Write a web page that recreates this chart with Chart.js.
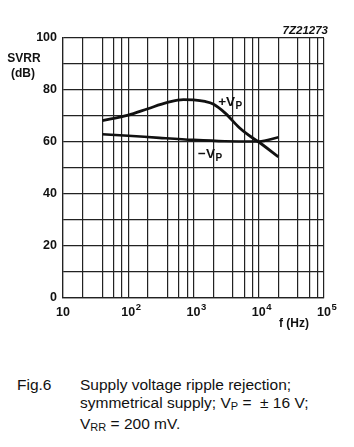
<!DOCTYPE html>
<html>
<head>
<meta charset="utf-8">
<script src="https://cdn.jsdelivr.net/npm/chart.js@4/dist/chart.umd.min.js"></script>
<style>
  body { margin: 0; background: #fff; width: 354px; height: 447px; position: relative; overflow: hidden; }
  #wrap { position: absolute; left: 0; top: 0; width: 354px; height: 345px; }
  .cap { position: absolute; font-family: "Liberation Sans", Arial, sans-serif; font-size: 15.5px; line-height: 18px; color: #111; }
  .cap sub { font-size: 11px; vertical-align: -2px; }
</style>
</head>
<body>
<div id="wrap"><canvas id="result-chart"></canvas></div>
<div class="cap" style="left:17px; top:376px;">Fig.6</div>
<div class="cap" style="left:80px; top:376px;">Supply voltage ripple rejection;<br>symmetrical supply; V<sub>P</sub> = &nbsp;± 16 V;<br>V<sub>RR</sub> = 200 mV.</div>
<script>
const pos_freq = [40, 100, 200, 400, 700, 1000, 1500, 2000, 3000, 5000, 7000, 10000, 20000];
const pos_svrr = [68.2, 70.3, 72.8, 75.2, 76.3, 76.2, 75.6, 74.6, 71.3, 65.6, 62.6, 60.0, 54.3];
const neg_freq = [40, 100, 300, 1000, 3000, 10000, 20000];
const neg_svrr = [63.0, 62.4, 61.6, 60.8, 60.3, 60.2, 61.8];
const x_grid = [10, 20, 40, 60, 80, 100, 200, 400, 600, 800, 1000, 2000, 4000, 6000, 8000,
  10000, 20000, 40000, 60000, 80000, 100000];
const x_decades = [10, 100, 1000, 10000, 100000];
const x_exponents = ["", "2", "3", "4", "5"];
const y_labels = [0, 20, 40, 60, 80, 100];

const FONT = '"Liberation Sans", Arial, sans-serif';
const INK = "#111";

const to_points = (xs, ys) => xs.map((x, i) => ({ x: x, y: ys[i] }));

const text_plugin = {
  id: "texts",
  afterDraw(chart) {
    const ctx = chart.ctx;
    const xs = chart.scales.x;
    const ys = chart.scales.y;
    ctx.save();
    ctx.fillStyle = INK;
    ctx.textBaseline = "alphabetic";

    // decade labels with superscript exponents
    x_decades.forEach((v, i) => {
      const x = xs.getPixelForValue(v);
      const base_y = chart.chartArea.bottom + 18;
      ctx.font = "bold 12.5px " + FONT;
      ctx.textAlign = "center";
      ctx.fillText("10", x, base_y);
      const w = ctx.measureText("10").width;
      if (x_exponents[i]) {
        ctx.font = "bold 9.5px " + FONT;
        ctx.textAlign = "left";
        ctx.fillText(x_exponents[i], x + w / 2 + 0.5, base_y - 6);
      }
    });

    ctx.font = "bold 12px " + FONT;
    ctx.textAlign = "center";
    ctx.fillText("SVRR", 24, 62);
    ctx.fillText("(dB)", 23, 77);
    ctx.textAlign = "left";
    ctx.fillText("f (Hz)", 279, 327);
    ctx.font = "italic bold 11.5px " + FONT;
    ctx.textAlign = "right";
    ctx.fillText("7Z21273", 328, 34);

    const sub_label = (sign, f, db) => {
      const x = xs.getPixelForValue(f);
      const y = ys.getPixelForValue(db);
      ctx.textAlign = "left";
      ctx.font = "bold 13.5px " + FONT;
      const head = sign + "V";
      ctx.fillText(head, x, y);
      const w = ctx.measureText(head).width;
      ctx.font = "bold 10px " + FONT;
      ctx.fillText("P", x + w + 0.5, y + 3);
    };
    sub_label("+", 2390, 73.8);
    sub_label("\u2212", 1175, 54.0);
    ctx.restore();
  },
};

const get_chart_config = () => {
  return {
    type: "line",
    data: {
      datasets: [
        {
          label: "+VP",
          data: to_points(pos_freq, pos_svrr),
          borderColor: INK,
          borderWidth: 2.8,
          pointRadius: 0,
          cubicInterpolationMode: "monotone",
          fill: false,
        },
        {
          label: "-VP",
          data: to_points(neg_freq, neg_svrr),
          borderColor: INK,
          borderWidth: 2.6,
          pointRadius: 0,
          cubicInterpolationMode: "monotone",
          fill: false,
        },
      ],
    },
    options: {
      responsive: true,
      maintainAspectRatio: false,
      animation: false,
      layout: { padding: { left: 0, top: 38, right: 30, bottom: 0 } },
      plugins: { legend: { display: false }, tooltip: { enabled: false } },
      scales: {
        x: {
          type: "logarithmic",
          min: 10,
          max: 100000,
          afterBuildTicks: (scale) => {
            scale.ticks = x_grid.map((v) => ({ value: v }));
          },
          afterFit: (scale) => {
            scale.height = 47;
          },
          grid: { color: "#222", lineWidth: 1.2, drawTicks: false },
          border: { color: "#222", width: 1.2 },
          ticks: {
            autoSkip: false,
            maxRotation: 0,
            callback: () => "",
          },
        },
        y: {
          min: 0,
          max: 100,
          afterFit: (scale) => {
            scale.width = 63;
          },
          grid: { color: "#222", lineWidth: 1.2, drawTicks: false },
          border: { color: "#222", width: 1.2 },
          ticks: {
            stepSize: 10,
            padding: 6,
            color: INK,
            font: { family: FONT, size: 12.5, weight: "bold" },
            callback: (value) => (y_labels.includes(value) ? String(value) : ""),
          },
        },
      },
    },
    plugins: [text_plugin],
  };
};

const resultChart = new Chart(document.getElementById("result-chart"), get_chart_config());
</script>
</body>
</html>
